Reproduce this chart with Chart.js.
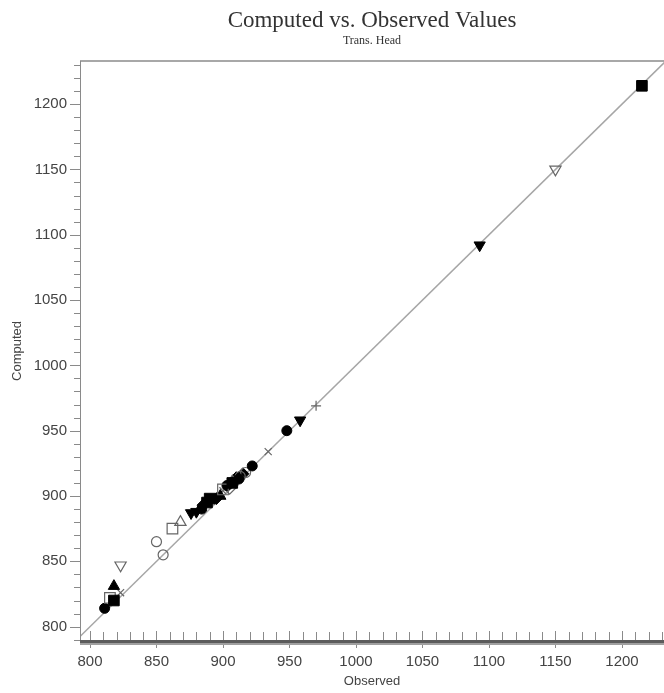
<!DOCTYPE html>
<html>
<head>
<meta charset="utf-8">
<script src="https://cdn.jsdelivr.net/npm/chart.js@4.4.0/dist/chart.umd.min.js"></script>
<style>
  html, body { margin: 0; padding: 0; background: #fff; }
  #wrap { width: 664px; height: 693px; }
</style>
</head>
<body>
<div id="wrap"><canvas id="chart"></canvas></div>
<script>
// Observed / computed head pairs, one array per marker symbol
const filledSquare   = [[1215, 1214], [890, 898], [888, 895], [818, 820], [907, 910]];
const openSquare     = [[862, 875], [815, 822], [900, 905]];
const filledCircle   = [[811, 814], [948, 950], [922, 923], [884, 890], [903, 908], [912, 913]];
const openCircle     = [[850, 865], [855, 855], [917, 918], [913, 915]];
const filledTriUp    = [[818, 831], [898, 900]];
const openTriUp      = [[868, 880], [907, 911]];
const filledTriDown  = [[1093, 1092], [958, 958], [876, 887], [880, 888]];
const openTriDown    = [[1150, 1150], [823, 847]];
const filledDiamond  = [[885, 893], [895, 898], [910, 914], [915, 917]];
const openDiamond    = [[905, 906], [911, 913]];
const xCross         = [[934, 934], [823, 826], [900, 904]];
const plusCross      = [[970, 969], [906, 909]];

const xRange = [792.5, 1231.6];
const yRange = [789, 1233];

const titleText = 'Computed vs. Observed Values';
const subtitleText = 'Trans. Head';

const pts = arr => arr.map(([x, y]) => ({ x, y }));

function series(data, style, filled, radius, rotation) {
  return {
    type: 'scatter',
    data: pts(data),
    pointStyle: style,
    pointRadius: radius,
    pointRotation: rotation || 0,
    pointBackgroundColor: filled ? '#000' : 'rgba(0,0,0,0)',
    pointBorderColor: filled ? '#000' : '#666',
    pointBorderWidth: filled ? 1 : 1.2,
    order: 0
  };
}

// titles centred over the plot area rather than the whole canvas
const plotTitles = {
  id: 'plotTitles',
  afterDraw(chart) {
    const { ctx, chartArea: a } = chart;
    const cx = (a.left + a.right) / 2;
    ctx.save();
    ctx.fillStyle = '#333';
    ctx.textAlign = 'center';
    ctx.textBaseline = 'middle';
    ctx.font = '23px "Liberation Serif", "Times New Roman", serif';
    ctx.fillText(titleText, cx, 21);
    ctx.font = '12px "Liberation Serif", "Times New Roman", serif';
    ctx.fillText(subtitleText, cx, 41);
    ctx.restore();
  }
};

// tick marks and frame drawn by hand: minor every 10, major every 50
const tickMarks = {
  id: 'tickMarks',
  afterDraw(chart) {
    const { ctx, chartArea: a, scales: { x, y } } = chart;
    const seg = (x1, y1, x2, y2) => { ctx.beginPath(); ctx.moveTo(x1, y1); ctx.lineTo(x2, y2); ctx.stroke(); };
    ctx.save();
    ctx.strokeStyle = '#a8a8a8';
    ctx.lineWidth = 2;
    seg(a.left, a.top, a.right, a.top);
    ctx.strokeStyle = '#8a8a8a';
    ctx.lineWidth = 1;
    seg(a.left + 0.5, a.top, a.left + 0.5, a.bottom);

    for (let v = Math.ceil(y.min / 10) * 10; v <= y.max; v += 10) {
      const py = Math.round(y.getPixelForValue(v)) + 0.5;
      const len = v % 50 === 0 ? 10 : 6;
      seg(a.left - len, py, a.left, py);
    }
    for (let v = Math.ceil(x.min / 10) * 10; v <= x.max; v += 10) {
      const px = Math.round(x.getPixelForValue(v)) + 0.5;
      if (v % 50 === 0) seg(px, a.bottom - 10, px, a.bottom + 7);
      else seg(px, a.bottom - 9, px, a.bottom);
    }
    ctx.fillStyle = '#5c5c5c';
    ctx.fillRect(a.left, a.bottom - 1, a.right - a.left, 3);
    ctx.fillStyle = '#a0a0a0';
    ctx.fillRect(a.left, a.bottom + 2, a.right - a.left, 2);
    ctx.restore();
  }
};

const plain = v => String(v);

new Chart(document.getElementById('chart'), {
  data: {
    datasets: [
      series(filledSquare, 'rect', true, 7.5),
      series(openSquare, 'rect', false, 7.5),
      series(filledCircle, 'circle', true, 5),
      series(openCircle, 'circle', false, 5),
      series(filledTriUp, 'triangle', true, 6.5),
      series(openTriUp, 'triangle', false, 6.5),
      series(filledTriDown, 'triangle', true, 6.5, 180),
      series(openTriDown, 'triangle', false, 6.5, 180),
      series(filledDiamond, 'rectRot', true, 6),
      series(openDiamond, 'rectRot', false, 6),
      series(xCross, 'crossRot', false, 5),
      series(plusCross, 'cross', false, 5),
      {
        // 1:1 reference line
        type: 'line',
        data: [{ x: xRange[0] - 10, y: xRange[0] - 10 }, { x: yRange[1] + 10, y: yRange[1] + 10 }],
        borderColor: '#a6a6a6',
        borderWidth: 1.5,
        pointRadius: 0,
        order: 1
      }
    ]
  },
  options: {
    responsive: true,
    maintainAspectRatio: false,
    animation: false,
    layout: { autoPadding: false, padding: { left: 0, right: 0, top: 61, bottom: 0 } },
    plugins: {
      legend: { display: false },
      tooltip: { enabled: false },
      title: { display: false },
      subtitle: { display: false }
    },
    scales: {
      x: {
        type: 'linear',
        min: xRange[0],
        max: xRange[1],
        afterFit: s => { s.height = 52; },
        grid: { display: false, drawTicks: false },
        border: { display: false },
        ticks: {
          stepSize: 50,
          includeBounds: false,
          padding: 12,
          color: '#444',
          callback: plain,
          font: { family: '"Liberation Sans", Arial, sans-serif', size: 15 }
        },
        title: {
          display: true,
          text: 'Observed',
          color: '#444',
          padding: { top: 0, bottom: 4 },
          font: { family: '"Liberation Sans", Arial, sans-serif', size: 13 }
        }
      },
      y: {
        type: 'linear',
        min: yRange[0],
        max: yRange[1],
        afterFit: s => { s.width = 80; },
        grid: { display: false, drawTicks: false },
        border: { display: false },
        ticks: {
          stepSize: 50,
          includeBounds: false,
          padding: 13,
          color: '#444',
          callback: plain,
          font: { family: '"Liberation Sans", Arial, sans-serif', size: 15 }
        },
        title: {
          display: true,
          text: 'Computed',
          color: '#444',
          padding: { top: 10, bottom: 0 },
          font: { family: '"Liberation Sans", Arial, sans-serif', size: 13 }
        }
      }
    }
  },
  plugins: [tickMarks, plotTitles]
});
</script>
</body>
</html>
